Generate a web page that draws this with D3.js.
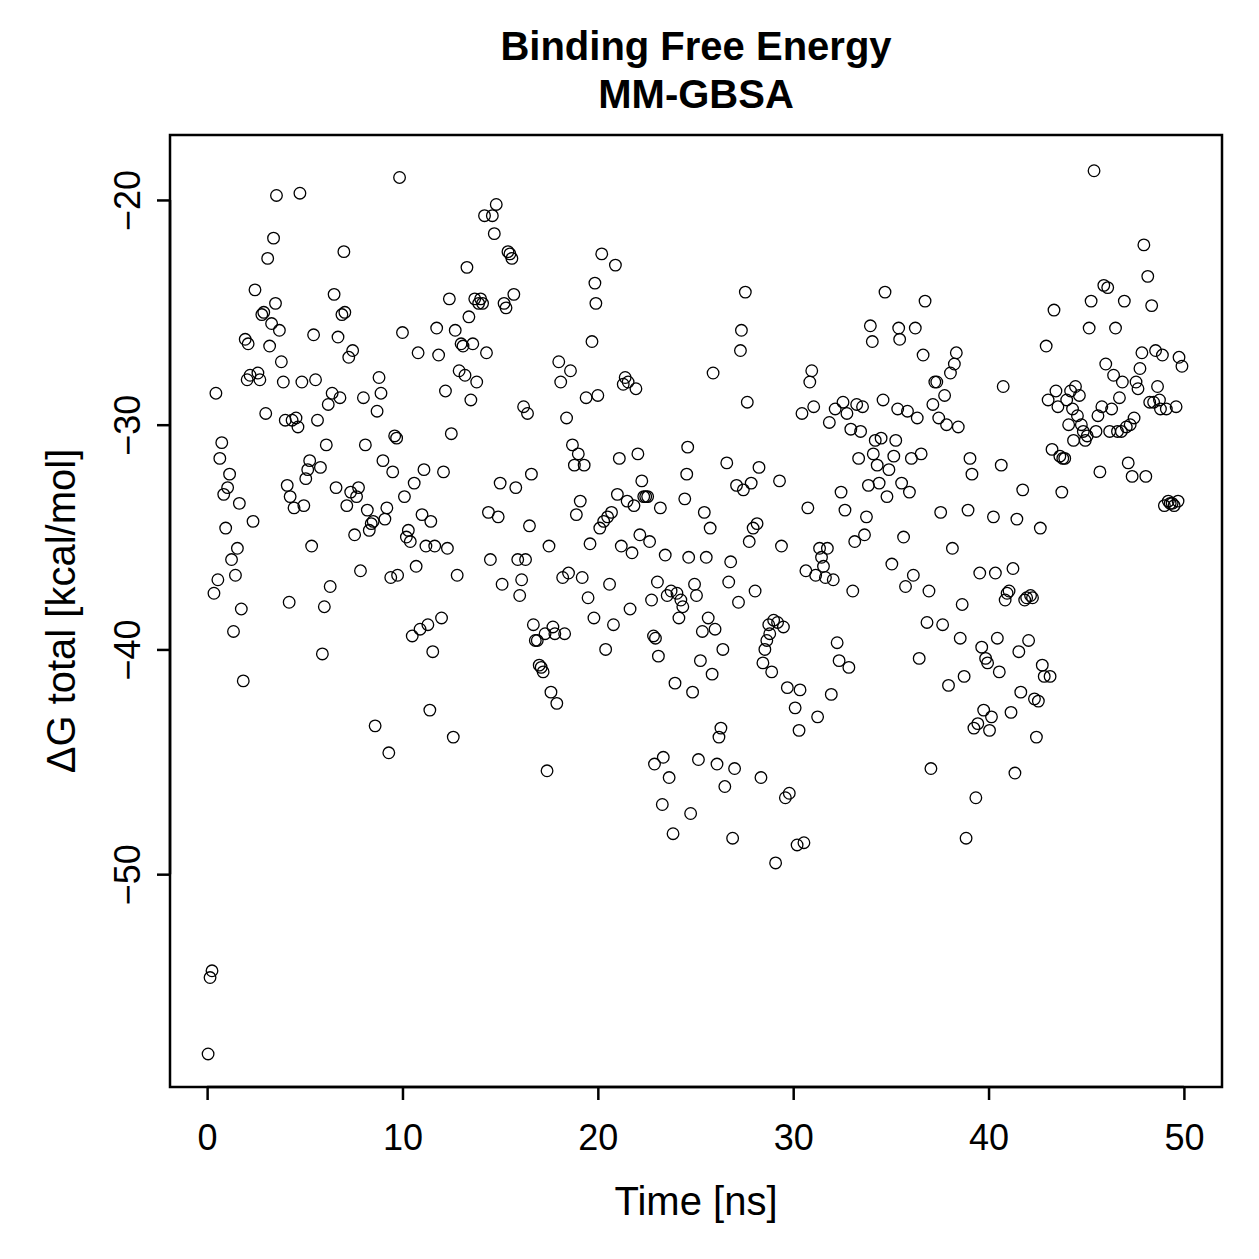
<!DOCTYPE html>
<html>
<head>
<meta charset="utf-8">
<script src="https://cdn.jsdelivr.net/npm/d3@7"></script>
<style>
  body { margin: 0; background: #fff; }
  text { font-family: "Liberation Sans", Arial, Helvetica, sans-serif; fill: #000; }
</style>
</head>
<body>
<div id="chart"></div>
<script>
// MM-GBSA binding free energy over the trajectory
var titleLines = ["Binding Free Energy", "MM-GBSA"];
var xLabel = "Time [ns]";
var yLabel = "\u0394G total [kcal/mol]";
var xTicks = [0, 10, 20, 30, 40, 50];
var yTicks = [-20, -30, -40, -50];

// time [ns]
var time = [
 0.05,0.15,0.25,0.35,0.45,0.55,0.65,0.75,0.85,0.95,1.05,1.15,1.25,1.35,1.45,1.55,1.65,1.75,1.85,1.95,
 2.05,2.1,2.2,2.35,2.45,2.6,2.7,2.8,2.9,3.0,3.1,3.2,3.3,3.4,3.5,3.55,3.7,3.8,3.9,4.0,
 4.1,4.2,4.25,4.35,4.45,4.55,4.65,4.75,4.85,4.95,5.05,5.15,5.25,5.35,5.45,5.55,5.65,5.8,5.9,6.0,
 6.1,6.2,6.3,6.4,6.5,6.6,6.7,6.8,6.9,7.0,7.05,7.15,7.25,7.35,7.45,7.55,7.65,7.75,7.85,8.0,
 8.1,8.2,8.3,8.4,8.5,8.6,8.7,8.8,8.9,9.0,9.1,9.2,9.3,9.4,9.5,9.6,9.7,9.75,9.85,10.0,
 10.1,10.2,10.3,10.4,10.5,10.6,10.7,10.8,10.9,11.0,11.1,11.2,11.3,11.4,11.45,11.55,11.65,11.75,11.85,12.0,
 12.1,12.2,12.3,12.4,12.5,12.6,12.7,12.8,12.9,13.0,13.1,13.2,13.3,13.4,13.5,13.6,13.7,13.8,13.9,14.0,
 14.1,14.2,14.3,14.4,14.5,14.6,14.7,14.8,14.9,15.0,15.1,15.2,15.3,15.4,15.5,15.6,15.7,15.8,15.9,16.0,
 16.1,16.2,16.3,16.4,16.5,16.6,16.7,16.8,16.9,17.0,17.1,17.2,17.3,17.4,17.5,17.6,17.7,17.8,17.9,18.0,
 18.1,18.2,18.3,18.4,18.5,18.6,18.7,18.8,18.9,19.0,19.1,19.2,19.3,19.4,19.5,19.6,19.7,19.8,19.85,19.9,
 20.0,20.1,20.2,20.3,20.4,20.5,20.6,20.7,20.8,20.9,21.0,21.1,21.2,21.3,21.4,21.5,21.55,21.65,21.75,21.85,
 21.95,22.05,22.15,22.25,22.35,22.45,22.55,22.65,22.75,22.85,22.9,22.95,23.05,23.1,23.2,23.3,23.35,23.45,23.55,23.65,
 23.75,23.85,23.95,24.05,24.15,24.25,24.35,24.45,24.55,24.6,24.65,24.75,24.85,24.95,25.05,25.15,25.25,25.35,25.45,25.55,
 25.65,25.75,25.85,25.9,26.0,26.1,26.2,26.3,26.4,26.5,26.6,26.7,26.8,26.9,27.0,27.1,27.2,27.3,27.35,27.45,
 27.55,27.65,27.75,27.85,27.95,28.05,28.15,28.25,28.35,28.45,28.55,28.65,28.75,28.8,28.9,29.0,29.1,29.2,29.3,29.4,
 29.5,29.6,29.7,29.8,30.1,30.2,30.3,30.35,30.45,30.55,30.65,30.75,30.85,30.95,31.05,31.15,31.25,31.35,31.45,31.55,
 31.65,31.75,31.85,31.95,32.05,32.15,32.25,32.35,32.45,32.55,32.65,32.75,32.85,32.95,33.05,33.15,33.25,33.35,33.45,33.55,
 33.65,33.75,33.85,33.95,34.05,34.1,34.2,34.3,34.4,34.5,34.6,34.7,34.8,34.9,35.05,35.15,35.25,35.35,35.4,35.45,
 35.55,35.65,35.75,35.85,35.95,36.05,36.15,36.25,36.35,36.45,36.55,36.65,36.75,36.85,36.95,37.05,37.15,37.25,37.35,37.45,
 37.55,37.65,37.75,37.85,37.95,38.05,38.15,38.25,38.35,38.45,38.55,38.65,38.75,38.85,38.95,39.05,39.15,39.25,39.35,39.45,
 39.55,39.65,39.75,39.85,39.95,40.05,40.15,40.25,40.35,40.45,40.55,40.65,40.75,40.85,40.95,41.05,41.15,41.25,41.35,41.45,
 41.55,41.65,41.75,41.85,41.95,42.05,42.15,42.25,42.35,42.45,42.55,42.65,42.75,42.85,42.95,43.05,43.15,43.25,43.35,43.45,
 43.55,43.65,43.75,43.8,43.9,44.0,44.1,44.2,44.3,44.35,44.45,44.55,44.65,44.75,44.85,44.95,45.05,45.15,45.25,45.4,
 45.5,45.6,45.7,45.8,45.9,46.0,46.1,46.2,46.3,46.4,46.5,46.6,46.7,46.8,46.85,46.95,47.05,47.15,47.25,47.35,
 47.45,47.55,47.65,47.75,47.85,47.95,48.05,48.15,48.25,48.35,48.45,48.55,48.65,48.75,48.8,48.9,49.0,49.1,49.2,49.3,
 49.4,49.5,49.6,49.7,49.75,49.9
];

// delta G total [kcal/mol]
var deltaG = [
 -58.0,-54.6,-54.3,-37.5,-28.6,-36.9,-31.5,-30.8,-33.1,-34.6,-32.8,-32.2,-36.0,-39.2,-36.7,-35.5,-33.5,-38.2,-41.4,-26.2,
 -28.0,-26.4,-27.8,-34.3,-24.0,-27.7,-28.0,-25.1,-25.0,-29.5,-22.6,-26.5,-25.5,-21.7,-24.6,-19.8,-25.8,-27.2,-28.1,-29.8,
 -32.7,-37.9,-33.2,-29.8,-33.7,-29.7,-30.1,-19.7,-28.1,-33.6,-32.4,-32.0,-31.6,-35.4,-26.0,-28.0,-29.8,-31.9,-40.2,-38.1,
 -30.9,-29.1,-37.2,-28.6,-24.2,-32.8,-26.1,-28.8,-25.1,-22.3,-25.0,-33.6,-27.0,-33.0,-26.7,-34.9,-33.2,-32.8,-36.5,-28.8,
 -30.9,-33.8,-34.7,-34.4,-34.3,-43.4,-29.4,-27.9,-28.6,-31.6,-34.2,-33.7,-44.6,-36.8,-32.1,-30.5,-30.6,-36.7,-19.0,-25.9,
 -33.2,-35.0,-34.7,-35.2,-39.4,-32.6,-36.3,-26.8,-39.1,-34.0,-32.0,-35.4,-38.9,-42.7,-34.3,-40.1,-35.4,-25.7,-26.9,-38.6,
 -32.1,-28.5,-35.5,-24.4,-30.4,-43.9,-25.8,-36.7,-27.6,-26.4,-26.5,-27.8,-23.0,-25.2,-28.9,-26.4,-24.4,-28.1,-24.6,-24.4,
 -24.6,-20.7,-26.8,-33.9,-36.0,-20.7,-21.5,-20.2,-34.1,-32.6,-37.1,-24.6,-24.8,-22.3,-22.4,-22.6,-24.2,-32.8,-36.0,-37.6,
 -36.9,-29.2,-36.0,-29.5,-34.5,-32.2,-38.9,-39.6,-39.6,-40.7,-40.8,-41.0,-39.3,-45.4,-35.4,-41.9,-39.0,-39.3,-42.4,-27.2,
 -28.1,-36.8,-39.3,-29.7,-36.6,-27.6,-30.9,-31.8,-34.0,-31.3,-33.4,-36.8,-31.8,-28.8,-37.7,-35.3,-26.3,-38.6,-23.7,-24.6,
 -28.7,-34.6,-22.4,-34.3,-40.0,-34.1,-37.1,-33.9,-38.9,-22.9,-33.1,-31.5,-35.4,-28.2,-27.9,-33.4,-28.1,-38.2,-35.7,-33.6,
 -28.4,-31.3,-34.9,-32.5,-33.2,-33.2,-33.2,-35.2,-37.8,-39.4,-45.1,-39.5,-37.0,-40.3,-33.7,-46.9,-44.8,-35.8,-37.6,-45.7,
 -37.4,-48.2,-41.5,-37.5,-38.6,-37.8,-38.1,-33.3,-32.2,-31.0,-35.9,-47.3,-41.9,-37.1,-37.6,-44.9,-40.5,-39.2,-33.9,-35.9,
 -38.6,-34.6,-41.1,-27.7,-39.1,-45.1,-43.9,-43.5,-40.0,-46.1,-31.7,-37.0,-36.1,-48.4,-45.3,-32.7,-37.9,-26.7,-25.8,-32.9,
 -24.1,-29.0,-35.2,-32.6,-34.6,-37.4,-34.4,-31.9,-45.7,-40.6,-40.0,-39.6,-38.9,-39.3,-41.0,-38.7,-49.5,-38.8,-32.5,-35.4,
 -39.0,-46.6,-41.7,-46.4,-42.6,-48.7,-43.6,-41.8,-29.5,-48.6,-36.5,-33.7,-28.1,-27.6,-29.2,-36.7,-43.0,-35.5,-35.9,-36.3,
 -36.8,-35.5,-29.9,-42.0,-36.9,-29.3,-39.7,-40.5,-33.0,-29.0,-33.8,-29.5,-40.8,-30.2,-37.4,-35.2,-29.1,-31.5,-30.3,-29.2,
 -34.9,-34.1,-32.7,-25.6,-26.3,-31.3,-30.7,-31.8,-32.6,-30.6,-28.9,-24.1,-33.2,-32.0,-36.2,-31.4,-30.7,-29.3,-25.7,-26.2,
 -32.6,-35.0,-37.2,-29.4,-33.0,-31.5,-36.7,-25.7,-29.7,-40.4,-31.3,-26.9,-24.5,-38.8,-37.4,-45.3,-29.1,-28.1,-28.1,-29.7,
 -33.9,-38.9,-28.7,-30.0,-41.6,-27.7,-35.5,-27.3,-26.8,-30.1,-39.5,-38.0,-41.2,-48.4,-33.8,-31.5,-32.2,-43.5,-46.6,-43.3,
 -36.6,-39.9,-42.7,-40.4,-40.6,-43.6,-43.0,-34.1,-36.6,-39.5,-41.0,-31.8,-28.3,-37.8,-37.5,-37.4,-42.8,-36.4,-45.5,-34.2,
 -40.1,-41.9,-32.9,-37.8,-37.7,-39.6,-37.6,-37.7,-42.2,-43.9,-42.3,-34.6,-40.7,-41.2,-26.5,-28.9,-41.2,-31.1,-24.9,-28.5,
 -29.2,-31.4,-33.0,-31.5,-31.5,-28.9,-30.0,-28.5,-29.3,-30.7,-28.3,-29.6,-28.7,-30.0,-30.3,-30.7,-30.5,-25.7,-24.5,-18.7,
 -30.3,-29.6,-32.1,-29.2,-23.8,-27.3,-23.9,-30.3,-29.3,-27.8,-25.7,-30.3,-28.8,-30.3,-28.1,-24.5,-30.1,-31.7,-30.0,-32.3,
 -29.7,-28.1,-28.4,-27.5,-26.8,-22.0,-32.3,-23.4,-29.0,-24.7,-29.0,-26.7,-28.3,-28.9,-29.3,-26.9,-33.6,-29.3,-33.4,-33.5,
 -33.5,-33.6,-29.2,-33.4,-27.0,-27.4
];

var data = time.map(function (t, i) { return {t: t, g: deltaG[i]}; });

var width = 1259, height = 1259;
var plot = {left: 170, right: 1222, top: 135, bottom: 1087};

var svg = d3.select('#chart')
    .append('svg')
    .attr('width', width)
    .attr('height', height);

// R style 4% padding around the data range
var x = d3.scaleLinear().domain([-1.9, 51.95]).range([plot.left, plot.right]);
var y = d3.scaleLinear().domain([-59.47, -17.11]).range([plot.bottom, plot.top]);

// points
svg.append('g')
   .selectAll('circle')
   .data(data)
   .enter()
   .append('circle')
   .attr('cx', function (d) { return x(d.t); })
   .attr('cy', function (d) { return y(d.g); })
   .attr('r', 5.8)
   .attr('fill', 'none')
   .attr('stroke', '#000')
   .attr('stroke-width', 1.3);

// box
svg.append('rect')
   .attr('x', plot.left)
   .attr('y', plot.top)
   .attr('width', plot.right - plot.left)
   .attr('height', plot.bottom - plot.top)
   .attr('fill', 'none')
   .attr('stroke', '#000')
   .attr('stroke-width', 2.5);

// x axis
var xAxis = d3.axisBottom(x).tickValues(xTicks).tickSize(13).tickPadding(50);
var gx = svg.append('g')
   .attr('transform', 'translate(0,' + plot.bottom + ')')
   .call(xAxis);
gx.select('.domain')
   .attr('d', 'M' + x(xTicks[0]) + ',0H' + x(xTicks[xTicks.length - 1]))
   .attr('stroke-width', 2.5);
gx.selectAll('.tick line').attr('stroke-width', 2.5);
gx.selectAll('.tick text')
   .attr('dy', 0)
   .style('font-family', '"Liberation Sans", Arial, sans-serif')
   .style('font-size', '36px');

// y axis
var yAxis = d3.axisLeft(y).tickValues(yTicks).tickSize(13).tickPadding(10);
var gy = svg.append('g')
   .attr('transform', 'translate(' + plot.left + ',0)')
   .call(yAxis);
gy.select('.domain')
   .attr('d', 'M0,' + y(yTicks[0]) + 'V' + y(yTicks[yTicks.length - 1]))
   .attr('stroke-width', 2.5);
gy.selectAll('.tick line').attr('stroke-width', 2.5);
gy.selectAll('.tick text')
   .attr('x', 0)
   .attr('dy', 0)
   .attr('text-anchor', 'middle')
   .attr('transform', 'translate(-30,0) rotate(-90)')
   .style('font-family', '"Liberation Sans", Arial, sans-serif')
   .style('font-size', '36px');

// titles
svg.selectAll('text.title')
   .data(titleLines)
   .enter()
   .append('text')
   .attr('class', 'title')
   .attr('x', (plot.left + plot.right) / 2)
   .attr('y', function (d, i) { return 60 + i * 48; })
   .attr('text-anchor', 'middle')
   .style('font-weight', 'bold')
   .style('font-size', '40px')
   .text(function (d) { return d; });

svg.append('text')
   .attr('x', (plot.left + plot.right) / 2)
   .attr('y', 1215)
   .attr('text-anchor', 'middle')
   .style('font-size', '40px')
   .text(xLabel);

svg.append('text')
   .attr('transform', 'translate(75,' + ((plot.top + plot.bottom) / 2) + ') rotate(-90)')
   .attr('text-anchor', 'middle')
   .style('font-size', '40px')
   .text(yLabel);
</script>
</body>
</html>
